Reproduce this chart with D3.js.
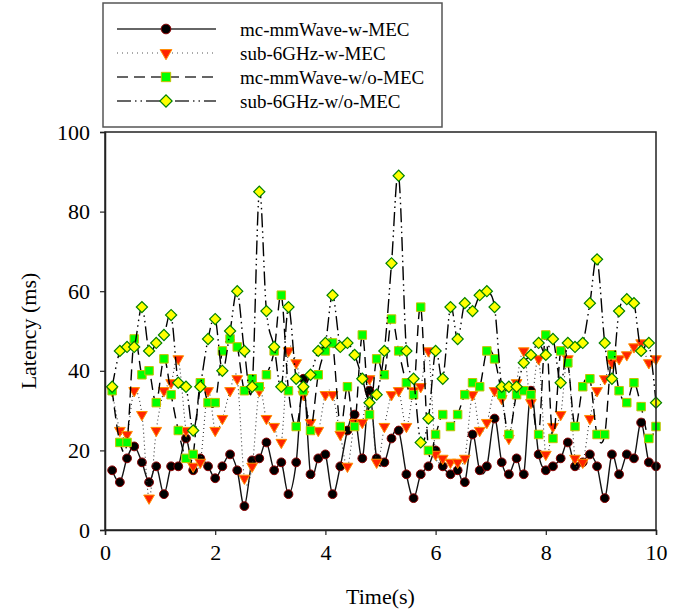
<!DOCTYPE html>
<html>
<head>
<meta charset="utf-8">
<script src="https://cdn.jsdelivr.net/npm/d3@7"></script>
<style>
  html, body { margin: 0; padding: 0; background: #fff; }
  svg { display: block; }
  text { font-family: "Liberation Serif", "Times New Roman", serif; fill: #000; }
</style>
</head>
<body>
<svg id="chart" width="686" height="614"></svg>
<script>
// ---- data ----
const times = [0.13,0.27,0.40,0.53,0.67,0.80,0.93,1.07,1.20,1.33,1.47,1.60,1.73,1.87,2.00,
  2.13,2.27,2.40,2.53,2.67,2.80,2.93,3.07,3.20,3.33,3.47,3.60,3.73,3.87,4.00,
  4.13,4.27,4.40,4.53,4.67,4.80,4.93,5.07,5.20,5.33,5.47,5.60,5.73,5.87,6.00,
  6.13,6.27,6.40,6.53,6.67,6.80,6.93,7.07,7.20,7.33,7.47,7.60,7.73,7.87,8.00,
  8.13,8.27,8.40,8.53,8.67,8.80,8.93,9.07,9.20,9.33,9.47,9.60,9.73,9.87,10.00];

const mcMmWaveMEC = [15,12,18,21,17,12,16,9,16,16,23,15,18,16,13,
  16,19,15,6,17.5,18,22,15,17,9,17,38,14,18,19,
  9,16,25,29,18,35,18,17,23,25,14,8,14,16,20,
  16,14,15,12,24,15,16,28,17,14,18,14,35,19,15,
  16,18,22,16,17,19,16,8,19,14,19,18,27,17,16];

const sub6MEC = [35,25,24,35,29,8,25,35,37,43,25,16,17,35,25,
  28,35,38,13,16,35,28,26,22,45,42,34,27,25,34,
  34,24,16,27,27,38,17,26,34,35,26,35,36,45,19,
  18,17,17,18,34,25,27,35,33,23,37,45,32,43,19,
  26,29,43,18,17,28,35,38,42,43,44,46,47,42,43];

const mcMmWaveNoMEC = [35,22,22,48,39,40,32,43,34,25,18,19,37,32,32,
  45,48,46,35,38,36,39,45,59,35,26,35,25,39,45,
  47,26,36,26,49,29,43,39,53,45,37,34,56,20,24,
  29,26,29,34,37,36,45,43,34,24,34,35,34,24,49,
  23,45,42,26,36,38,24,24,44,35,32,37,31,23,26];

const sub6NoMEC = [36,45,46,46,56,45,47,49,54,37,36,25,36,48,53,
  40,50,60,45,36,85,55,46,36,56,38,36,39,45,47,
  59,46,47,44,38,32,34,45,67,89,45,38,22,28,45,
  38,56,48,57,55,59,60,56,36,36,36,42,44,47,44,
  48,37,47,46,47,57,68,47,38,55,58,57,45,47,32];

const seriesNames = ["mc-mmWave-w-MEC","sub-6GHz-w-MEC","mc-mmWave-w/o-MEC","sub-6GHz-w/o-MEC"];
const xTicks = [0,2,4,6,8,10];
const yTicks = [0,20,40,60,80,100];

// ---- layout ----
const FONT = '"Times New Roman", "Liberation Serif", serif';
const svg = d3.select("#chart");
const L = 105, R = 656, T = 132, B = 530;
const x = d3.scaleLinear().domain([0,10]).range([L,R]);
const y = d3.scaleLinear().domain([0,100]).range([B,T]);

const styles = [
  {values: mcMmWaveMEC, dash: null, lineColor: "#111", lw: 1.4, marker: "circle", fill: "#000", stroke: "#8b0000"},
  {values: sub6MEC, dash: "1,3", lineColor: "#333", lw: 1.1, marker: "tri", fill: "#ff2400", stroke: "#ff9000"},
  {values: mcMmWaveNoMEC, dash: "11,6", lineColor: "#000", lw: 1.4, marker: "square", fill: "#00ff00", stroke: "#c8c000"},
  {values: sub6NoMEC, dash: "14,4,1.5,4,1.5,4", lineColor: "#000", lw: 1.4, marker: "diamond", fill: "#ffff00", stroke: "#008000"}
];

function drawMarker(g, kind, s, cx, cy, k) {
  k = k || 1;
  if (kind === "circle") {
    g.append("circle").attr("cx", cx).attr("cy", cy).attr("r", 4.4 * k)
      .attr("fill", s.fill).attr("stroke", s.stroke).attr("stroke-width", 1);
  } else if (kind === "tri") {
    g.append("path").attr("d", d3.symbol().type(d3.symbolTriangle).size(50 * k * k)())
      .attr("transform", `translate(${cx},${cy}) rotate(180)`)
      .attr("fill", s.fill).attr("stroke", s.stroke).attr("stroke-width", 1);
  } else if (kind === "square") {
    g.append("path").attr("d", d3.symbol().type(d3.symbolSquare).size(72 * k * k)())
      .attr("transform", `translate(${cx},${cy})`)
      .attr("fill", s.fill).attr("stroke", s.stroke).attr("stroke-width", 1);
  } else {
    g.append("path").attr("d", d3.symbol().type(d3.symbolSquare).size(62 * k * k)())
      .attr("transform", `translate(${cx},${cy}) rotate(45)`)
      .attr("fill", s.fill).attr("stroke", s.stroke).attr("stroke-width", 1.2);
  }
}

const line = d3.line().x((d,i) => x(times[i])).y(d => y(d)).curve(d3.curveCardinal.tension(0));

styles.forEach(s => {
  const g = svg.append("g");
  g.append("path").datum(s.values).attr("d", line)
    .attr("fill", "none").attr("stroke", s.lineColor).attr("stroke-width", s.lw)
    .attr("stroke-dasharray", s.dash);
  s.values.forEach((v,i) => drawMarker(g, s.marker, s, x(times[i]), y(v)));
});

// frame
svg.append("rect").attr("x", L).attr("y", T).attr("width", R-L).attr("height", B-T)
  .attr("fill", "none").attr("stroke", "#222").attr("stroke-width", 1.5);

// axes
const xAxis = svg.append("g").attr("transform", `translate(0,${B})`)
  .call(d3.axisBottom(x).tickValues(xTicks).tickSize(5).tickPadding(9).tickFormat(d3.format("d")));
const yAxis = svg.append("g").attr("transform", `translate(${L},0)`)
  .call(d3.axisLeft(y).tickValues(yTicks).tickSize(5).tickPadding(10).tickFormat(d3.format("d")));
[xAxis, yAxis].forEach(a => {
  a.attr("font-family", FONT);
  a.select(".domain").attr("stroke", "#222").attr("stroke-width", 1.5);
  a.selectAll(".tick line").attr("stroke", "#222").attr("stroke-width", 1.2);
  a.selectAll(".tick text").style("font-family", FONT).style("font-size", "22px").attr("fill", "#000");
});

svg.append("text").attr("x", (L+R)/2).attr("y", 604).attr("text-anchor", "middle")
  .style("font-family", FONT).style("font-size", "22px").text("Time(s)");
svg.append("text").attr("transform", `translate(36,${(T+B)/2}) rotate(-90)`).attr("text-anchor", "middle")
  .style("font-family", FONT).style("font-size", "22px").text("Latency (ms)");

// legend
const lg = svg.append("g");
lg.append("rect").attr("x", 103).attr("y", 3).attr("width", 339).attr("height", 124)
  .attr("fill", "#fff").attr("stroke", "#555").attr("stroke-width", 1.5);
const rowsY = [29, 53, 77, 101];
styles.forEach((s, i) => {
  const yy = rowsY[i];
  lg.append("line").attr("x1", 117).attr("x2", 216).attr("y1", yy).attr("y2", yy)
    .attr("stroke", i === 1 ? "#555" : "#333").attr("stroke-width", i === 1 ? 1 : 1.4)
    .attr("stroke-dasharray", i === 1 ? "1,4" : (i === 2 ? "11,6" : (i === 3 ? "14,4,1.5,4,1.5,4" : null)));
  drawMarker(lg, s.marker, s, 166, yy, 1.1);
  lg.append("text").attr("x", 240).attr("y", yy).attr("dy", "0.35em")
    .style("font-family", FONT).style("font-size", "19px").text(seriesNames[i]);
});
</script>
</body>
</html>
